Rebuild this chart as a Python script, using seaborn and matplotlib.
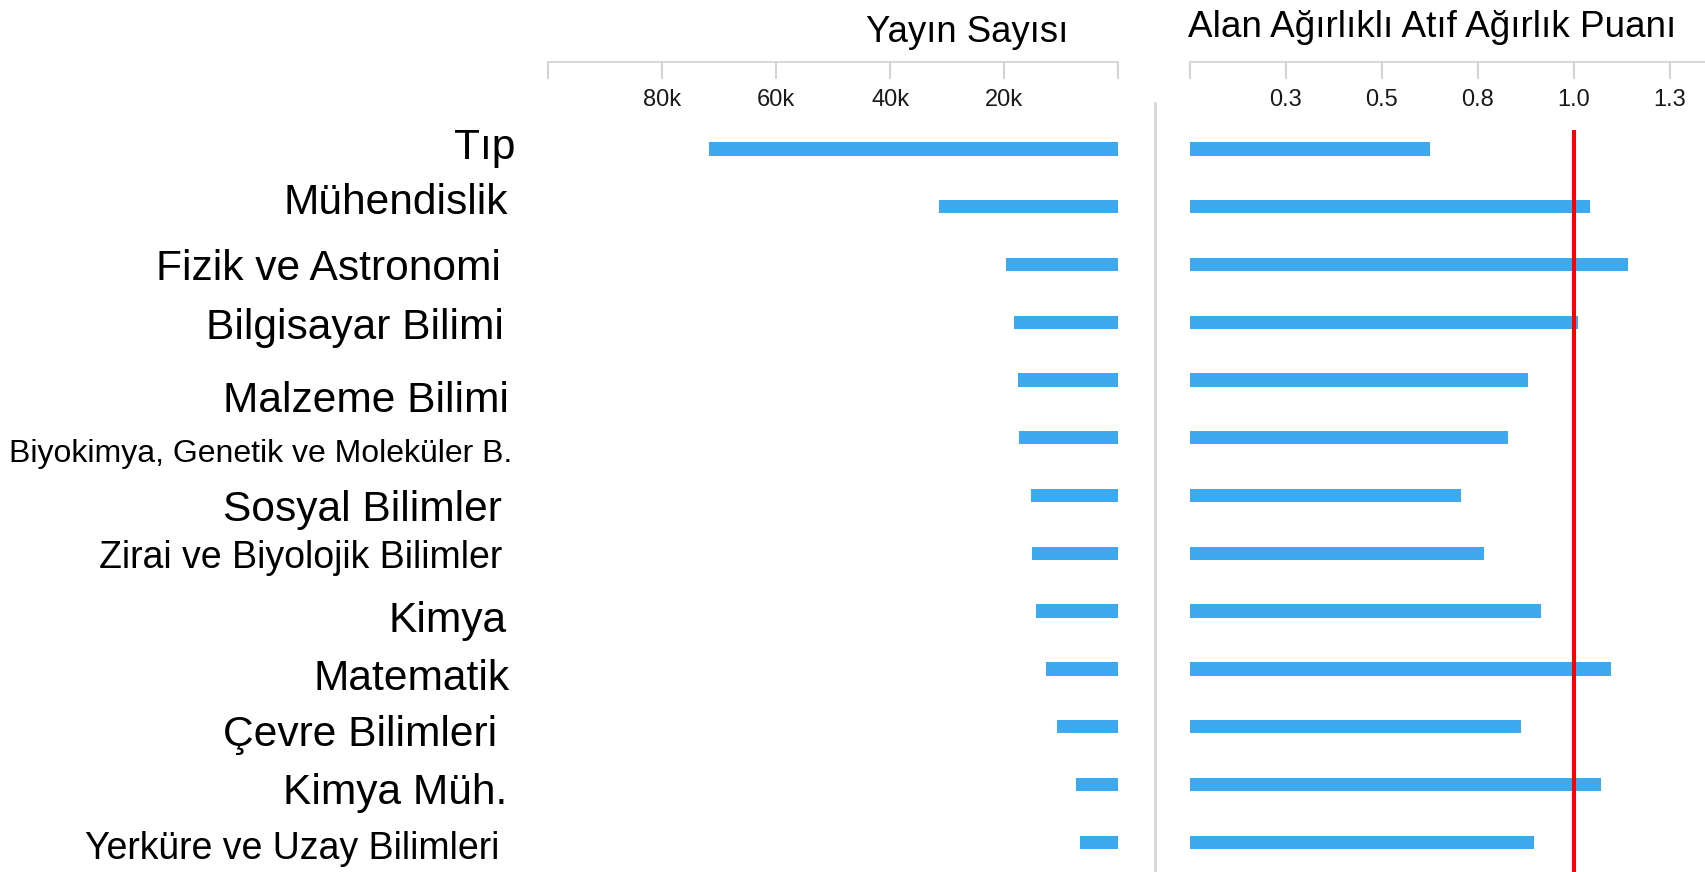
import matplotlib
matplotlib.use('Agg')
import matplotlib.pyplot as plt
import matplotlib.transforms as mtransforms
from matplotlib.lines import Line2D
import seaborn as sns

# data
fields = ['Tıp', 'Mühendislik', 'Fizik ve Astronomi', 'Bilgisayar Bilimi', 'Malzeme Bilimi',
          'Biyokimya, Genetik ve Moleküler B.', 'Sosyal Bilimler', 'Zirai ve Biyolojik Bilimler',
          'Kimya', 'Matematik', 'Çevre Bilimleri', 'Kimya Müh.', 'Yerküre ve Uzay Bilimleri']
pub_counts = [71700, 31500, 19750, 18400, 17700, 17500, 15300, 15100, 14500, 12700, 10700, 7400, 6750]
fwci = [0.626, 1.042, 1.142, 1.010, 0.880, 0.828, 0.705, 0.765, 0.915, 1.098, 0.862, 1.072, 0.897]
reference_fwci = 1.0

count_ticks = [0, 20000, 40000, 60000, 80000, 100000]
count_tick_labels = ['', '20k', '40k', '60k', '80k', '']
fwci_ticks = [0, 0.25, 0.5, 0.75, 1.0, 1.25]
fwci_tick_labels = ['', '0.3', '0.5', '0.8', '1.0', '1.3']

title_left = 'Yayın Sayısı'
title_right = 'Alan Ağırlıklı Atıf Ağırlık Puanı'

# label styling (the labels were pasted with uneven sizes / offsets)
label_sizes = [30.6, 30.6, 30.6, 30.6, 30.6, 23, 30.6, 27, 30.6, 30.6, 30.6, 30.6, 27]
label_right_px = [515, 508, 501, 504, 509, 512, 502, 502, 507, 510, 497, 507, 499]
label_drop_px = [10, 7, 15, 17, 32, 24, 25, 15, 21, 21, 19, 20, 17]

BAR = '#3daaf0'
W, H = 1706, 872

sns.set_style('white')
plt.rcParams['font.family'] = ['Liberation Sans', 'DejaVu Sans']
plt.rcParams['text.color'] = 'black'

fig = plt.figure(figsize=(W / 100, H / 100), dpi=100)
top = 1 - 62 / H
ax_l = fig.add_axes([548 / W, 0, (1118.5 - 548) / W, top])
ax_r = fig.add_axes([1190 / W, 0, (W - 1190) / W, top])

sns.barplot(x=pub_counts, y=fields, orient='h', color=BAR, saturation=1,
            width=0.23, linewidth=0, ax=ax_l)
sns.barplot(x=fwci, y=fields, orient='h', color=BAR, saturation=1,
            width=0.23, linewidth=0, ax=ax_r)

ylim = (12.516, -1.506)
ax_l.set_xlim(100000, 0)
ax_r.set_xlim(0, (W - 1190) / 383.8)

for ax, ticks, labels in [(ax_l, count_ticks, count_tick_labels),
                          (ax_r, fwci_ticks, fwci_tick_labels)]:
    ax.set_ylim(*ylim)
    ax.set_yticks([])
    ax.set_xlabel('')
    ax.set_ylabel('')
    ax.set_xticks(ticks)
    ax.set_xticklabels(labels)
    for s in ['left', 'right', 'bottom']:
        ax.spines[s].set_visible(False)
    ax.spines['top'].set_visible(True)
    ax.spines['top'].set_color('#d4d4d4')
    ax.spines['top'].set_linewidth(1.3)
    ax.tick_params(axis='x', top=True, bottom=False, labeltop=True, labelbottom=False,
                   direction='in', length=12, width=1.3, color='#cfcfcf',
                   pad=-35, labelsize=17, labelcolor='#1a1a1a')
    ax.set_facecolor('none')

ax_r.vlines(reference_fwci, -0.33, ylim[0], color='#ff0000', lw=2.9)

fig.add_artist(Line2D([1155 / W, 1155 / W], [0, 1 - 103 / H], transform=fig.transFigure,
                      color='#d9d9d9', lw=2.2))

fig.text(967 / W, 1 - 42 / H, title_left, ha='center', va='baseline', fontsize=26.3, color='black')
fig.text(1432 / W, 1 - 37 / H, title_right, ha='center', va='baseline', fontsize=26.6, color='black')

base = mtransforms.blended_transform_factory(fig.transFigure, ax_l.transData)
for i, name in enumerate(fields):
    tr = mtransforms.offset_copy(base, fig=fig, x=0, y=-label_drop_px[i], units='dots')
    fig.text(label_right_px[i] / W, i, name, transform=tr, ha='right', va='baseline',
             fontsize=label_sizes[i], color='black')

fig.savefig('out.png', dpi=100)
